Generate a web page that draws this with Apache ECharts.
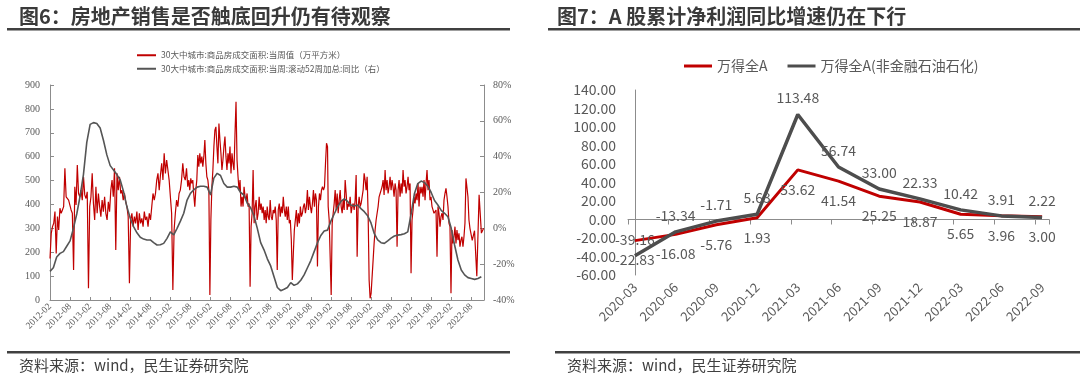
<!DOCTYPE html>
<html><head><meta charset="utf-8">
<script src="https://cdn.jsdelivr.net/npm/echarts@6/dist/echarts.min.js"></script>
<style>html,body{margin:0;padding:0;background:#fff}#c{width:1080px;height:384px}</style>
</head><body><div id="c"></div>
<script>
// ---------- Left chart (图6) ----------
// x axis: months counted from 2012-02 (0 = 2012-02)
const leftStartYear = 2012, leftStartMonth = 2;
const leftXMax = 129.8;
// 30大中城市 商品房成交面积 当周: 滚动52周加总 同比 (%), monthly, index = months since 2012-02
const grayYoY = [-24,-22,-16,-14,-13,-10,-7,0,8,18,
  30,48,58,59,58.5,56,49,41,35,32.6,
  30,27,20.5,12,5.6,1,-2.5,-5,-6,-6.5,
  -6.5,-8,-9.3,-9.2,-8.4,-5.6,-2,-3.7,0,4,
  8.4,15.8,19.5,21.5,23,23.5,23.5,23,18.6,28,
  30.7,29.5,25,23,23,23.5,23,20,18.6,14,
  11.5,7,0,-8,-12,-17,-21,-27,-33,-34.8,
  -34,-33,-30.3,-31.8,-31,-29,-26,-22,-18,-13,
  -8,-4,-1.5,-1,4,8,12,15,16.5,15,
  13,12.5,13,11,9.3,7,3,-3,-6.5,-8,
  -8.4,-7,-5.5,-4.3,-3.8,-3.5,-3,-2,8,19.5,
  25,26.4,25.5,23.5,20,15.5,13,10,8.4,6.5,
  0,-9.3,-17.7,-23.3,-26,-27.5,-28,-28.5,-28,-27];
// 30大中城市 商品房成交面积 当周值 (万平方米), read in segments; each segment spans [start,end] months
const redSegA = [174,279,307,321,370,195,349,293,384,363,377,391,551,432,440,418,425,377,363,126,
  474,398,565,446,432,460,418,516,440,425,453,49,391,432,530,404,335,474,363,446,
  391,349,418,370,432,363,335,411,370,460,502,432,551,209,530,460,516,446,460,418,
  446,411,391,349,70,335,363,307,349,321,370,293,363,321,342,307,370,335,349,307,
  363,335,391,446,418,446,502,530,460,523,572,502,614,530,586,544,502,432,363,42,
  293,363,418,391,446,460,502,572,516,502,551,474];
const redSegB = [502,460,509,488,502,440,391,460,502,607,558,614,572,600,558,600,670,572,516,502,
  460,21,335,474,544,642,711,725,642,572,739,670,614,544,586,642,684,600,544,614,
  572,642,530,614,572,544,697,830,586,516,460,502,391,432,391,474,432,418,446,391,
  404,56,307,363,544,321,391,418,335,363,432,377,404,363,391,335,377,321,391,349,
  335,418,349,335,377,363,391,335,126,377,404,349,391,363,432,377,349,391,335,391,
  321,335,251,84,195,293,335,377,307,363,321,391,349,363,391,404,363,391,460,377,
  432,391,363,404,460,391,446,418,140,391,446,418,460,474,460,474,572,656,642];
const redSegC = [391,335,335,21,321,363,404,460,377,446,363,418,460,391,363,418,377,502,446,377,
  404,391,432,363,391,404,377,418,523,181,391,432,391,404,432,460,530,502,460,516,
  363,84,7,28,98,167,237,293,335,363,391,432,446,460,474,502,440,544,460,502,
  446,474,516,460,502,474,432,488,460,223,460,502,432,488,446,544,474,502,446,474,
  516,460,488,112,335,377,432,404,446,418,488,391,474,446,474,432,502,418,488,544,
  460,502,418,432,391,377,363,363,377,181,391,363,307,349,363,335,418,446,467,432,
  391,321,307,28,293,237,265,307,237,293,251,279,223,251,265,223,265,321,509,516,432,335];
const redSegD = [300,250,290,100,440,280,300];
const redSegments = [redSegA, redSegB, redSegC, redSegD];
const redSpans = [[0,41.2],[41.5,83.0],[83.2,125.3],[125.6,129.7]];

// ---------- Right chart (图7) ----------
const quarters = ['2020-03','2020-06','2020-09','2020-12','2021-03','2021-06','2021-09','2021-12','2022-03','2022-06','2022-09'];
const wdAll = [-22.83,-16.08,-5.76,1.93,53.62,41.54,25.25,18.87,5.65,3.96,3.00];
const wdExFin = [-39.16,-13.34,-1.71,5.63,113.48,56.74,33.00,22.33,10.42,3.91,2.22];

const redData = [];
redSegments.forEach((seg, k) => {
  const [a, b] = redSpans[k];
  const step = (b - a) / (seg.length - 1);
  seg.forEach((v, i) => redData.push([a + i * step, v]));
});
const grayData = grayYoY.map((v, i) => [i, v]);

function monthLabel(v) {
  if (Math.abs(v - Math.round(v / 6) * 6) > 0.01) return '';
  const m = Math.round(v) + leftStartMonth - 1;
  const y = leftStartYear + Math.floor(m / 12);
  const mm = (m % 12) + 1;
  return y + '-' + (mm < 10 ? '0' + mm : mm);
}

const AX = '#8c8c8c', TXT = '#595959';
const RED = '#c00000', DARK = '#4d4d4d';
const CJK = '"Noto Sans CJK SC", "Noto Sans", sans-serif';
const SERIF = '"Liberation Serif", "DejaVu Serif", serif';

const chart = echarts.init(document.getElementById('c'), null, {renderer: 'canvas'});
chart.setOption({
  animation: false,
  backgroundColor: '#fff',
  graphic: [
    {type: 'text', left: 19, top: 6, style: {text: '图6：房地产销售是否触底回升仍有待观察', font: 'bold 20px ' + CJK, fill: '#3a3a3a'}},
    {type: 'rect', shape: {x: 7, y: 28, width: 503, height: 2.5}, style: {fill: '#404040'}},
    {type: 'text', left: 557, top: 6, style: {text: '图7：A 股累计净利润同比增速仍在下行', font: 'bold 20px ' + CJK, fill: '#3a3a3a'}},
    {type: 'rect', shape: {x: 548, y: 28, width: 532, height: 2.5}, style: {fill: '#404040'}},
    {type: 'rect', shape: {x: 7, y: 351, width: 503, height: 2.5}, style: {fill: '#404040'}},
    {type: 'rect', shape: {x: 555, y: 351, width: 525, height: 2.5}, style: {fill: '#404040'}},
    {type: 'text', left: 19, top: 358, style: {text: '资料来源：wind，民生证券研究院', font: '15px ' + CJK, fill: '#404040'}},
    {type: 'text', left: 567, top: 358, style: {text: '资料来源：wind，民生证券研究院', font: '15px ' + CJK, fill: '#404040'}}
  ],
  legend: [
    {data: ['30大中城市:商品房成交面积:当周值（万平方米）', '30大中城市:商品房成交面积:当周:滚动52周加总:同比（右）'],
     orient: 'vertical', left: 132, top: 46, itemWidth: 19, itemHeight: 2, itemGap: 5, icon: 'rect',
     textStyle: {fontSize: 8.5, color: TXT, fontFamily: CJK}},
    {data: [{name: '万得全A', itemStyle: {color: RED, opacity: 1}},
            {name: '万得全A(非金融石油石化)', itemStyle: {color: DARK, opacity: 1}}],
     left: 679, top: 54, itemWidth: 28, itemHeight: 3, itemGap: 20, icon: 'rect',
     textStyle: {fontSize: 14, color: TXT, fontFamily: CJK}}
  ],
  grid: [
    {left: 50, right: 596, top: 85, bottom: 84},
    {left: 628, right: 31, top: 90, bottom: 109}
  ],
  xAxis: [
    {type: 'value', gridIndex: 0, min: 0, max: leftXMax, interval: 6,
     axisLine: {onZero: false, lineStyle: {color: AX}}, axisTick: {inside: true, length: 3, lineStyle: {color: AX}},
     splitLine: {show: false},
     axisLabel: {rotate: 45, fontSize: 9.5, fontFamily: SERIF, color: TXT, margin: 5, formatter: monthLabel, showMaxLabel: false, hideOverlap: false}},
    {type: 'value', gridIndex: 1, min: -0.17, max: 10.17, interval: 1,
     axisLine: {onZero: true, lineStyle: {color: AX, width: 1}}, axisTick: {length: 5, lineStyle: {color: AX}},
     splitLine: {show: false}, axisLabel: {show: false}},
    {type: 'value', gridIndex: 1, min: -0.17, max: 10.17, position: 'bottom',
     axisLine: {show: false, onZero: false}, axisTick: {show: false}, splitLine: {show: false},
     axisLabel: {customValues: [0,1,2,3,4,5,6,7,8,9,10], rotate: 45, fontSize: 13, fontFamily: CJK, color: TXT, margin: 10,
       formatter: v => quarters[Math.round(v)] || ''}}
  ],
  yAxis: [
    {type: 'value', gridIndex: 0, min: 0, max: 900, interval: 100,
     axisLine: {show: true, lineStyle: {color: AX}}, axisTick: {show: true, inside: true, length: 4, lineStyle: {color: AX}},
     splitLine: {show: false}, axisLabel: {fontSize: 10, fontFamily: SERIF, color: TXT, margin: 10}},
    {type: 'value', gridIndex: 0, position: 'right', min: -40, max: 80, interval: 20,
     axisLine: {show: true, lineStyle: {color: AX}}, axisTick: {show: true, inside: true, length: 4, lineStyle: {color: AX}},
     splitLine: {show: false}, axisLabel: {fontSize: 10, fontFamily: SERIF, color: TXT, margin: 9, formatter: v => v + '%'}},
    {type: 'value', gridIndex: 1, min: -60, max: 140, interval: 20,
     axisLine: {show: true, lineStyle: {color: AX}}, axisTick: {show: false},
     splitLine: {show: false}, axisLabel: {fontSize: 14, fontFamily: CJK, color: TXT, margin: 12, formatter: v => v.toFixed(2)}}
  ],
  series: [
    {name: '30大中城市:商品房成交面积:当周值（万平方米）', type: 'line', xAxisIndex: 0, yAxisIndex: 0,
     data: redData, symbol: 'none', color: RED, lineStyle: {width: 1.2, color: RED}},
    {name: '30大中城市:商品房成交面积:当周:滚动52周加总:同比（右）', type: 'line', xAxisIndex: 0, yAxisIndex: 1,
     data: grayData, symbol: 'none', color: '#555555', lineStyle: {width: 1.6, color: '#555555'}},
    {name: '万得全A', type: 'line', xAxisIndex: 1, yAxisIndex: 2,
     data: wdAll.map((v, i) => [i, v]), symbol: 'circle', symbolSize: 1, showSymbol: true,
     itemStyle: {color: RED, opacity: 0}, color: RED, lineStyle: {width: 3, color: RED},
     label: {show: true, position: 'bottom', distance: 12, fontSize: 14, fontFamily: CJK, color: TXT, opacity: 1,
       formatter: p => p.value[1].toFixed(2)}},
    {name: '万得全A(非金融石油石化)', type: 'line', xAxisIndex: 1, yAxisIndex: 2,
     data: wdExFin.map((v, i) => [i, v]), symbol: 'circle', symbolSize: 1, showSymbol: true,
     itemStyle: {color: DARK, opacity: 0}, color: DARK, lineStyle: {width: 3.5, color: DARK},
     label: {show: true, position: 'top', distance: 9, fontSize: 14, fontFamily: CJK, color: TXT, opacity: 1,
       formatter: p => p.value[1].toFixed(2)}}
  ]
});
</script></body></html>
